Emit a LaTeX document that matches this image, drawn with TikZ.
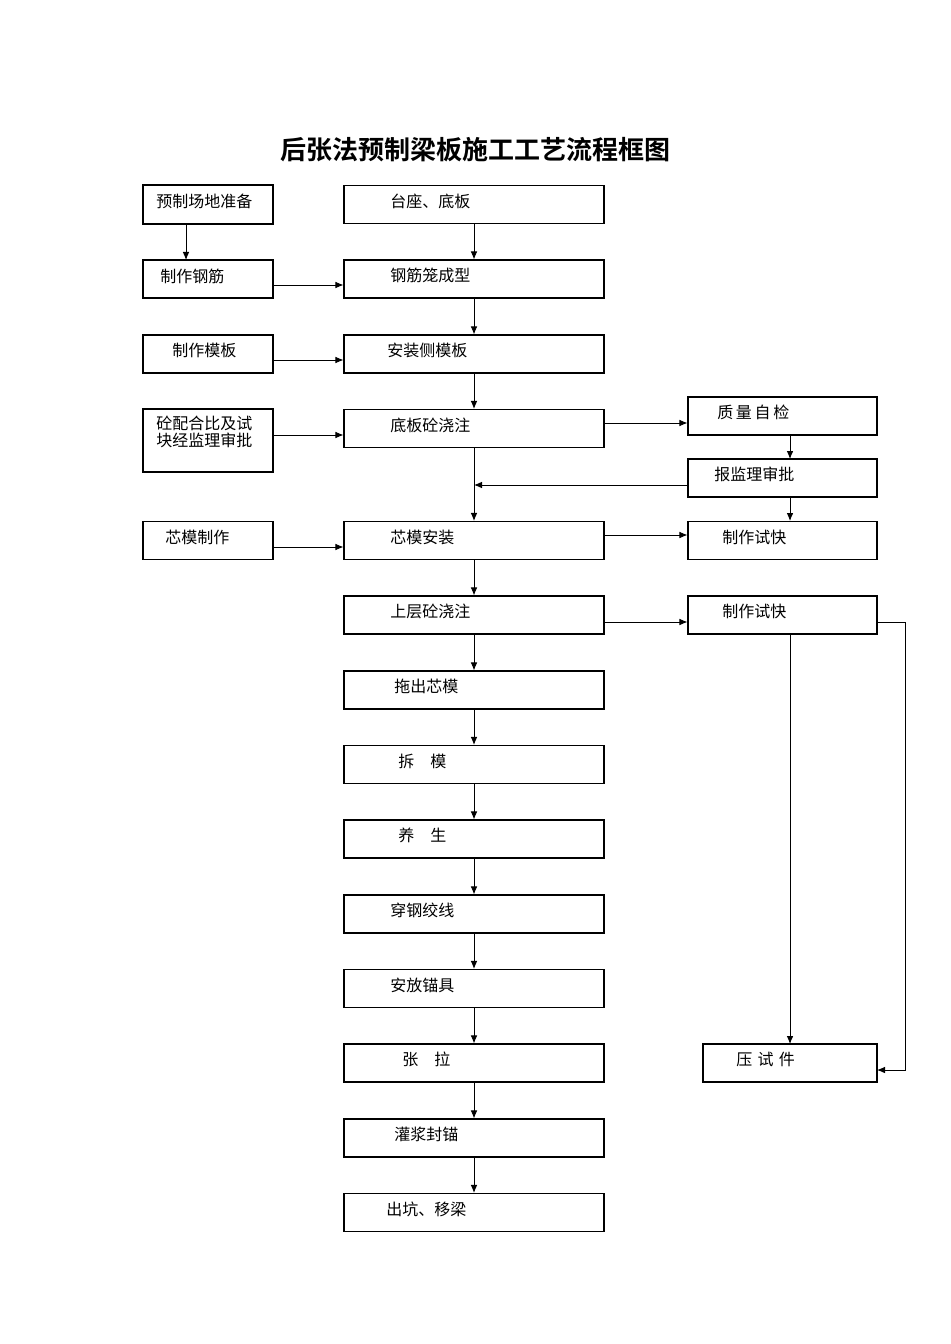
\documentclass[tikz,border=0pt]{standalone}
\usepackage{fontspec}
\newfontfamily\cjk{Noto Sans CJK SC}
\newfontfamily\cjkb{Noto Sans CJK SC Bold}
\usetikzlibrary{arrows.meta}
\begin{document}
\begin{tikzpicture}[x=0.75pt,y=-0.75pt,
  box/.style={draw,line width=0.8pt},
  lbl/.style={anchor=west,font=\cjk\fontsize{12}{13}\selectfont,inner sep=0},
  ar/.style={-{Latex[length=6pt,width=5pt]},line width=0.7pt}]
\useasboundingbox (0,0) rectangle (950,1344);
\node[font=\cjkb\fontsize{19.5}{22}\selectfont] (title) at (475,150) {后张法预制梁板施工工艺流程框图};
% left column
\draw[box] (143,185) rectangle (273,224) coordinate (L1c);
\node[box,minimum width=130*0.75pt,minimum height=38*0.75pt,draw=none] (L1) at (208,204.5) {};
\node[lbl] at (156,201) {预制场地准备};
\node[box,minimum width=130*0.75pt,minimum height=38*0.75pt] (L2) at (208,279) {};
\node[lbl] at (160,276) {制作钢筋};
\node[box,minimum width=130*0.75pt,minimum height=38*0.75pt] (L3) at (208,354) {};
\node[lbl] at (172,350) {制作模板};
\node[box,minimum width=130*0.75pt,minimum height=63*0.75pt] (L4) at (208,440.5) {};
\node[lbl,align=left] at (156,432) {砼配合比及试\\块经监理审批};
\node[box,minimum width=130*0.75pt,minimum height=38*0.75pt] (L5) at (208,540.5) {};
\node[lbl] at (165,537) {芯模制作};
% center column
\foreach \n/\y/\t/\x in {C1/204.5/台座、底板/390, C2/279/钢筋笼成型/390, C3/354/安装侧模板/387,
  C4/428.5/底板砼浇注/390, C5/540.5/芯模安装/390, C6/615/上层砼浇注/390, C7/690/拖出芯模/394,
  C8/764.5/拆\quad 模/398, C9/839/养\quad 生/398, C10/914/穿钢绞线/390, C11/988.5/安放锚具/390,
  C12/1063/张\quad 拉/402, C13/1138/灌浆封锚/394, C14/1212.5/出坑、移梁/386}{
  \node[box,minimum width=260*0.75pt,minimum height=38*0.75pt] (\n) at (474,\y) {};
  \node[lbl] at (\x,\y-3.5) {\t};
}
% right column
\node[box,minimum width=189*0.75pt,minimum height=38*0.75pt] (R1) at (782.5,416) {};
\node[lbl] at (717,412) {质\,量\,自\,检};
\node[box,minimum width=189*0.75pt,minimum height=38*0.75pt] (R2) at (782.5,478) {};
\node[lbl] at (714,474) {报监理审批};
\node[box,minimum width=189*0.75pt,minimum height=38*0.75pt] (R3) at (782.5,540.5) {};
\node[lbl] at (722,537) {制作试快};
\node[box,minimum width=189*0.75pt,minimum height=38*0.75pt] (R4) at (782.5,615) {};
\node[lbl] at (722,611) {制作试快};
\node[box,minimum width=174*0.75pt,minimum height=38*0.75pt] (R5) at (790,1063) {};
\node[lbl] at (736,1059) {压\,\,试\,\,件};
% arrows
\draw[ar] (186,224) -- (186,260);
\draw[ar] (273,285) -- (C2.west|-0,285);
\draw[ar] (273,360) -- (C3.west|-0,360);
\draw[ar] (273,435) -- (C4.west|-0,435);
\draw[ar] (273,547) -- (C5.west|-0,547);
\foreach \a/\b in {C1/C2,C2/C3,C3/C4,C4/C5,C5/C6,C6/C7,C7/C8,C8/C9,C9/C10,C10/C11,C11/C12,C12/C13,C13/C14}
  \draw[ar] (\a.south) -- (\b.north);
\draw[ar] (604,423) -- (R1.west|-0,423);
\draw[ar] (790,435) -- (790,459);
\draw[ar] (R2.west|-0,485) -- (474,485);
\draw[ar] (790,497) -- (790,521);
\draw[ar] (604,535) -- (R3.west|-0,535);
\draw[ar] (604,622) -- (R4.west|-0,622);
\draw[ar] (790,634) -- (790,1044);
\draw[ar] (877,622) -- (905,622) -- (905,1070) -- (877,1070);
\end{tikzpicture}
\end{document}
